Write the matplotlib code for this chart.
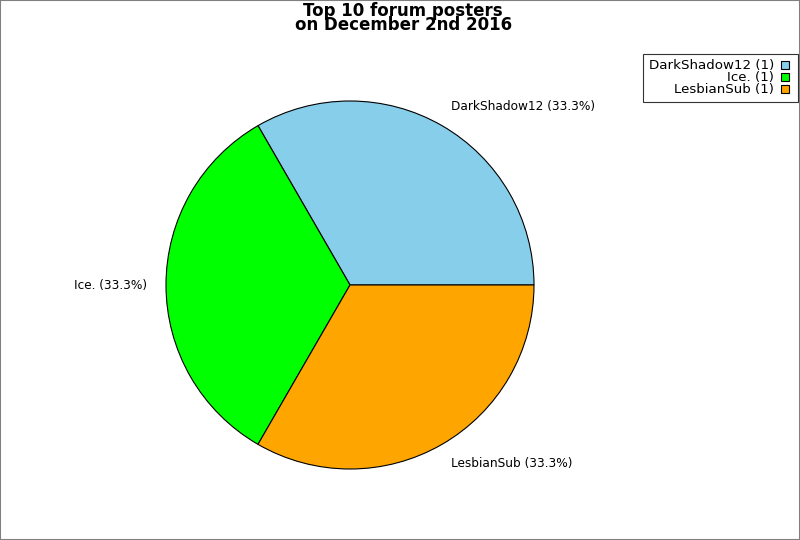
import matplotlib
matplotlib.use("Agg")
import matplotlib.pyplot as plt
from matplotlib.patches import Rectangle
from matplotlib.lines import Line2D

# forum posters and their post counts
posters = ["DarkShadow12", "Ice.", "LesbianSub"]
posts = [1, 1, 1]
colours = ["#87CEEB", "#00FF00", "#FFA500"]

total = sum(posts)
pieLabels = [p + " (%.1f%%)" % (100.0 * n / total) for p, n in zip(posters, posts)]
legendLabels = [p + " (%d)" % n for p, n in zip(posters, posts)]

fig = plt.figure(figsize=(8, 5.4), dpi=100)
fig.patches.append(Rectangle((0, 0), 1, 1, transform=fig.transFigure,
                             fill=False, edgecolor="#808080", linewidth=1.5))

# pie centred at (350, 285) px, radius 184 px
ax = fig.add_axes([166 / 800, 71 / 540, 368 / 800, 368 / 540])
wedges, texts = ax.pie(posts, labels=pieLabels, colors=colours, startangle=0,
                       counterclock=True, labeldistance=1.1,
                       wedgeprops={"edgecolor": "black", "linewidth": 0.8},
                       textprops={"fontsize": 8.7})
# labels sit a bit further out vertically in the original
for t in texts:
    x, y = t.get_position()
    t.set_position((x, y * 1.02))
ax.set_xlim(-1, 1)
ax.set_ylim(-1, 1)
ax.set_aspect("equal")

fig.suptitle("Top 10 forum posters\non December 2nd 2016", fontsize=12,
             fontweight="bold", x=0.504, y=0.996, va="top", linespacing=0.72)

handles = [Line2D([], [], linestyle="none", marker="s", markersize=5.5,
                  markerfacecolor=c, markeredgecolor="black",
                  markeredgewidth=0.8) for c in colours]
leg = fig.legend(handles, legendLabels, loc="upper right",
                 bbox_to_anchor=(798 / 800, 1 - 54 / 540), markerfirst=False,
                 fontsize=9.6, frameon=True, fancybox=False, shadow=False,
                 handlelength=1.1, handletextpad=0.3,
                 labelspacing=-0.08, borderpad=0.4, borderaxespad=0)
leg.get_frame().set_edgecolor("black")
leg.get_frame().set_linewidth(0.8)

fig.savefig("out.png", dpi=100)
